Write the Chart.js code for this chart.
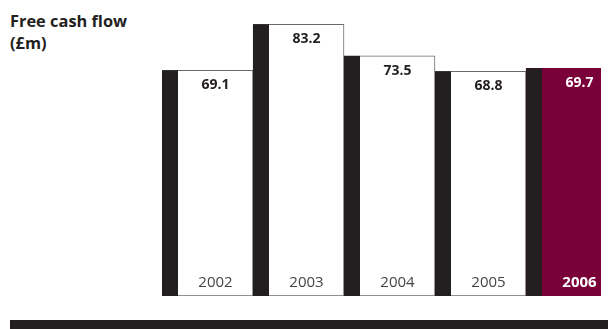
<!DOCTYPE html>
<html>
<head>
<meta charset="utf-8">
<script src="https://cdn.jsdelivr.net/npm/chart.js@4"></script>
<style>
html, body { margin: 0; padding: 0; background: #fff; }
body { width: 608px; height: 329px; position: relative; overflow: hidden; font-family: 'Open Sans', sans-serif; }
#title { position: absolute; left: 10px; top: 10px; font-weight: bold; font-size: 16.4px; line-height: 22px; color: #231f20; }
#clip { position: absolute; left: 0; top: 0; width: 601px; height: 300px; overflow: hidden; }
#wrap { position: absolute; left: 0; top: 0; width: 620px; height: 300px; }
#base { position: absolute; left: 10px; top: 320px; width: 598px; height: 9px; background: #231f20; }
</style>
</head>
<body>
<div id="title">Free cash flow<br>(£m)</div>
<div id="clip"><div id="wrap"><canvas id="cashChart"></canvas></div></div>
<div id="base"></div>
<script>
const years = ['2002', '2003', '2004', '2005', '2006'];
const cashFlow = [69.1, 83.2, 73.5, 68.8, 69.7];
const valueLabels = ['69.1', '83.2', '73.5', '68.8', '69.7'];
const highlighted = [false, false, false, false, true];

const DARK = '#231f20';
const MAROON = '#7a0039';

// dark strip on the left of each bar + text inside the bars
const barDecor = {
    id: 'barDecor',
    afterDatasetsDraw: chart => {
        const ctx = chart.ctx;
        const bars = chart.getDatasetMeta(0).data;
        ctx.save();
        bars.forEach((bar, i) => {
            const { x, y, base, width } = bar.getProps(['x', 'y', 'base', 'width']);
            const left = x - width / 2;
            const strip = 16;
            ctx.fillStyle = DARK;
            ctx.fillRect(left, y, strip, base - y);

            const cx = left + strip + (width - strip) / 2;
            const hi = highlighted[i];
            ctx.textAlign = 'center';
            ctx.textBaseline = 'alphabetic';
            ctx.fillStyle = hi ? '#fff' : '#231f20';
            ctx.font = 'bold 14px "Open Sans"';
            ctx.fillText(valueLabels[i], cx, y + 19);

            ctx.fillStyle = hi ? '#fff' : '#444';
            ctx.font = (hi ? 'bold ' : '') + '15px "Open Sans"';
            ctx.fillText(years[i], cx, base - 9);
        });
        ctx.restore();
    }
};

new Chart(document.getElementById('cashChart'), {
    type: 'bar',
    data: {
        labels: years,
        datasets: [{
            data: cashFlow,
            backgroundColor: highlighted.map(h => h ? MAROON : '#fff'),
            borderColor: highlighted.map(h => h ? MAROON : '#6b6b6b'),
            borderWidth: 1,
            borderSkipped: false,
            barPercentage: 1,
            categoryPercentage: 1
        }]
    },
    options: {
        responsive: true,
        maintainAspectRatio: false,
        animation: false,
        layout: { padding: { left: 162, right: 3, top: 2, bottom: 4 } },
        plugins: {
            legend: { display: false },
            tooltip: { enabled: false }
        },
        scales: {
            x: { display: false },
            y: { display: false, min: 0, max: 90 }
        }
    },
    plugins: [barDecor]
});
</script>
</body>
</html>
